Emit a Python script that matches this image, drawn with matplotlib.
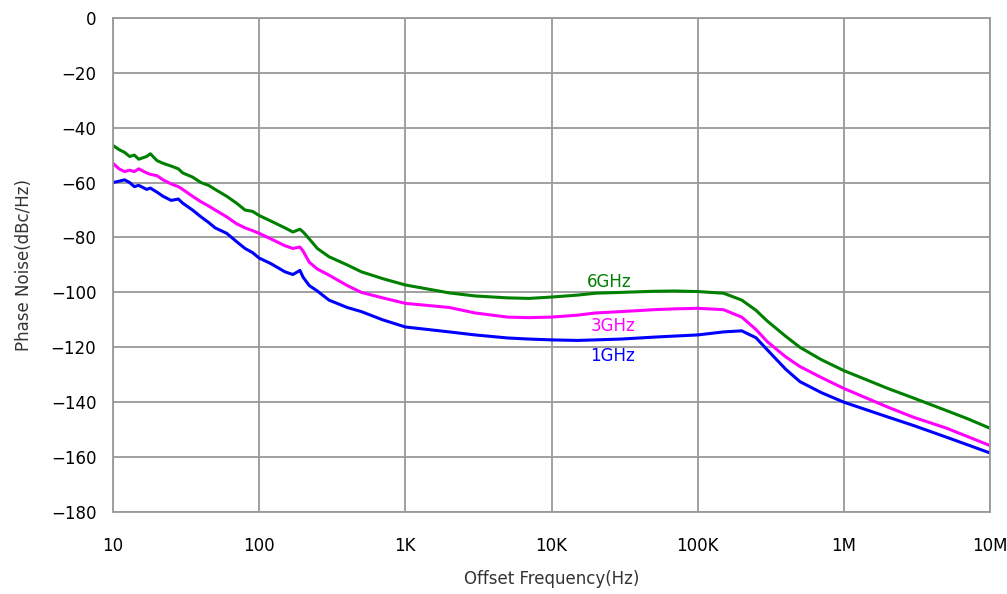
import matplotlib.pyplot as plt
from matplotlib.ticker import FixedLocator, FixedFormatter, NullLocator

# offset frequencies (Hz) and phase noise (dBc/Hz)
freq = [10, 11, 12, 13, 14, 15, 17, 18, 20, 22, 25, 28, 30, 35, 40, 45, 50,
        60, 70, 80, 90, 100, 120, 150, 170, 190, 200, 220, 250, 300, 400, 500,
        700, 1e3, 2e3, 3e3, 5e3, 7e3, 1e4, 1.5e4, 2e4, 3e4, 5e4, 7e4, 1e5,
        1.5e5, 2e5, 2.5e5, 3e5, 4e5, 5e5, 7e5, 1e6, 2e6, 3e6, 5e6, 7e6, 1e7]

pn_6ghz = [-46.5, -48.0, -49.0, -50.5, -50.0, -51.5, -50.5, -49.5, -52.0, -53.0,
           -54.0, -55.0, -56.5, -58.0, -60.0, -61.0, -62.5, -65.0, -67.5, -70.0,
           -70.5, -72.0, -74.0, -76.5, -78.0, -77.0, -78.0, -80.5, -84.0, -87.0,
           -90.0, -92.5, -95.0, -97.3, -100.2, -101.3, -102.0, -102.2, -101.7,
           -101.0, -100.3, -100.0, -99.6, -99.5, -99.7, -100.3, -102.8, -106.5,
           -110.5, -116.0, -120.0, -124.5, -128.5, -135.0, -138.5, -143.0, -146.0,
           -149.5]

pn_3ghz = [-53.0, -55.0, -56.0, -55.5, -56.0, -55.0, -56.5, -57.0, -57.5, -59.0,
           -60.5, -61.5, -62.5, -65.0, -67.0, -68.5, -70.0, -72.5, -75.0, -76.5,
           -77.5, -78.5, -80.5, -83.0, -84.0, -83.5, -85.0, -89.0, -91.5, -93.7,
           -97.5, -100.0, -102.0, -104.0, -105.5, -107.5, -109.0, -109.2, -109.0,
           -108.3, -107.5, -107.0, -106.3, -106.0, -105.8, -106.3, -109.0, -113.5,
           -118.0, -123.5, -127.0, -131.0, -135.0, -141.8, -145.5, -149.4, -152.5,
           -155.8]

pn_1ghz = [-60.0, -59.5, -59.0, -60.0, -61.5, -61.0, -62.5, -62.0, -63.5, -65.0,
           -66.5, -66.0, -67.5, -70.0, -72.5, -74.5, -76.5, -78.5, -81.5, -84.0,
           -85.5, -87.5, -89.5, -92.5, -93.5, -92.0, -94.5, -97.5, -99.5, -102.8,
           -105.5, -107.0, -110.0, -112.6, -114.4, -115.5, -116.6, -117.0, -117.3,
           -117.5, -117.3, -117.0, -116.3, -115.9, -115.5, -114.4, -114.0, -116.5,
           -121.0, -128.0, -132.5, -136.5, -140.0, -145.4, -148.5, -152.7, -155.5,
           -158.5]

xticks = [10, 100, 1e3, 1e4, 1e5, 1e6, 1e7]
xlabels = ["10", "100", "1K", "10K", "100K", "1M", "10M"]

fig = plt.figure(figsize=(10.07, 5.94), dpi=100)
ax = fig.add_axes([0.1122, 0.138, 0.871, 0.832])

ax.plot(freq, pn_6ghz, color="#008000", linewidth=2.2)
ax.plot(freq, pn_3ghz, color="#ff00ff", linewidth=2.2)
ax.plot(freq, pn_1ghz, color="#0000ff", linewidth=2.2)

ax.set_xscale("log")
ax.set_xlim(10, 1e7)
ax.set_ylim(-180, 0)
ax.xaxis.set_major_locator(FixedLocator(xticks))
ax.xaxis.set_major_formatter(FixedFormatter(xlabels))
ax.xaxis.set_minor_locator(NullLocator())
ax.set_yticks(range(-180, 1, 20))

ax.grid(True, color="#999999", linewidth=1.3)
ax.set_axisbelow(True)
for s in ax.spines.values():
    s.set_color("#999999")
    s.set_linewidth(1.3)
ax.tick_params(length=0, labelsize=12)
ax.tick_params(axis="x", pad=18)
ax.tick_params(axis="y", pad=12)

ax.set_xlabel("Offset Frequency(Hz)", fontsize=12, color="#333333", labelpad=11)
ax.set_ylabel("Phase Noise(dBc/Hz)", fontsize=12, color="#333333", labelpad=13)

ax.text(1.75e4, -98, "6GHz", color="#008000", fontsize=12)
ax.text(1.85e4, -114, "3GHz", color="#ff00ff", fontsize=12)
ax.text(1.85e4, -125, "1GHz", color="#0000ff", fontsize=12)

fig.savefig("out.png", dpi=100)
